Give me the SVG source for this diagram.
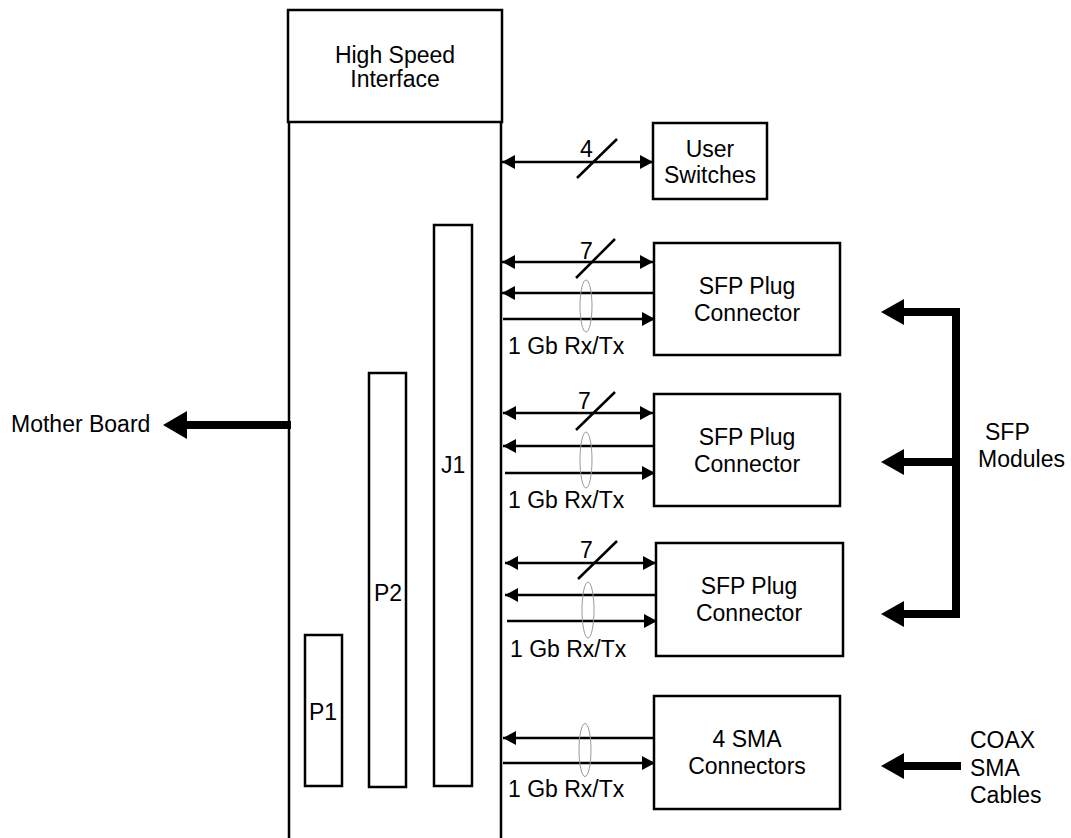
<svg xmlns="http://www.w3.org/2000/svg" width="1071" height="838" viewBox="0 0 1071 838">
<style>
.box{fill:#fff;stroke:#000;stroke-width:2.5}
.ln{stroke:#000;stroke-width:2.5;fill:none}
.th{stroke:#000;stroke-width:8;fill:none}
.el{fill:none;stroke:#999;stroke-width:1}
text{font-family:"Liberation Sans",Arial,sans-serif;font-size:23px;fill:#000}
.c{text-anchor:middle}
</style>
<defs>
<marker id="ah" viewBox="0 0 13 14" refX="13" refY="7" markerWidth="13" markerHeight="14" markerUnits="userSpaceOnUse" orient="auto-start-reverse">
<path d="M0,0 L13,7 L0,14 Z" fill="#000"/>
</marker>
</defs>
<rect width="1071" height="838" fill="#fff"/>
<g id="board">
<line class="ln" x1="289" y1="122" x2="289" y2="840"/>
<line class="ln" x1="501" y1="122" x2="501" y2="840"/>
</g>
<g id="hsi">
<rect class="box" x="288" y="10" width="214" height="112"/>
<text class="c" x="395" y="63">High Speed</text>
<text class="c" x="395" y="87">Interface</text>
</g>
<g id="j1">
<rect class="box" x="434" y="225" width="38" height="561"/>
<text x="441" y="473">J1</text>
</g>
<g id="p2">
<rect class="box" x="369" y="373" width="37" height="414"/>
<text x="374" y="601">P2</text>
</g>
<g id="p1">
<rect class="box" x="305" y="635" width="37" height="151"/>
<text x="309" y="720">P1</text>
</g>
<g id="userswitches">
<rect class="box" x="653" y="123" width="114" height="76"/>
<text class="c" x="710" y="157">User</text>
<text class="c" x="710" y="183">Switches</text>
</g>
<g id="sfp1">
<rect class="box" x="654" y="243" width="186" height="112"/>
<text class="c" x="747" y="294">SFP Plug</text>
<text class="c" x="747" y="321">Connector</text>
</g>
<g id="sfp2">
<rect class="box" x="654" y="394" width="186" height="112"/>
<text class="c" x="747" y="445">SFP Plug</text>
<text class="c" x="747" y="472">Connector</text>
</g>
<g id="sfp3">
<rect class="box" x="656" y="543" width="187" height="113"/>
<text class="c" x="749" y="594">SFP Plug</text>
<text class="c" x="749" y="621">Connector</text>
</g>
<g id="sma">
<rect class="box" x="654" y="696" width="186" height="113"/>
<text class="c" x="747" y="747">4 SMA</text>
<text class="c" x="747" y="774">Connectors</text>
</g>
<g id="labels">
<text x="11" y="432">Mother Board</text>
<text x="985" y="440">SFP</text>
<text x="978" y="467">Modules</text>
<text x="970" y="748">COAX</text>
<text x="970" y="776">SMA</text>
<text x="970" y="803">Cables</text>
</g>
<g id="connectors">
<line class="ln" x1="502" y1="162" x2="653" y2="162" marker-start="url(#ah)" marker-end="url(#ah)"/>
<line class="ln" stroke-width="1.2" x1="577" y1="178" x2="617" y2="139"/>
<text x="580" y="157">4</text>
<line class="ln" x1="502" y1="262" x2="653" y2="262" marker-start="url(#ah)" marker-end="url(#ah)"/>
<line class="ln" stroke-width="1.2" x1="576" y1="278" x2="615" y2="239"/>
<text x="580" y="259">7</text>
<line class="ln" x1="654" y1="293" x2="502" y2="293" marker-end="url(#ah)"/>
<line class="ln" x1="503" y1="319" x2="655" y2="319" marker-end="url(#ah)"/>
<ellipse class="el" cx="586" cy="306" rx="6" ry="26"/>
<text x="508" y="354">1 Gb Rx/Tx</text>
<line class="ln" x1="503" y1="413" x2="653" y2="413" marker-start="url(#ah)" marker-end="url(#ah)"/>
<line class="ln" stroke-width="1.2" x1="576" y1="430" x2="615" y2="392"/>
<text x="578" y="409">7</text>
<line class="ln" x1="654" y1="446" x2="503" y2="446" marker-end="url(#ah)"/>
<line class="ln" x1="505" y1="473" x2="655" y2="473" marker-end="url(#ah)"/>
<ellipse class="el" cx="586" cy="460" rx="6" ry="28"/>
<text x="508" y="508">1 Gb Rx/Tx</text>
<line class="ln" x1="505" y1="563" x2="656" y2="563" marker-start="url(#ah)" marker-end="url(#ah)"/>
<line class="ln" stroke-width="1.2" x1="578" y1="579" x2="617" y2="541"/>
<text x="580" y="558">7</text>
<line class="ln" x1="656" y1="595" x2="505" y2="595" marker-end="url(#ah)"/>
<line class="ln" x1="507" y1="621" x2="657" y2="621" marker-end="url(#ah)"/>
<ellipse class="el" cx="588" cy="610" rx="6" ry="28"/>
<text x="510" y="657">1 Gb Rx/Tx</text>
<line class="ln" x1="654" y1="738" x2="503" y2="738" marker-end="url(#ah)"/>
<line class="ln" x1="503" y1="763" x2="655" y2="763" marker-end="url(#ah)"/>
<ellipse class="el" cx="585" cy="750" rx="6" ry="26.5"/>
<text x="508" y="797">1 Gb Rx/Tx</text>
<line class="th" x1="291" y1="425" x2="186" y2="425"/>
<polygon points="163,425 187,411 187,439" fill="#000"/>
<path class="th" d="M903,312 H956 V614 H903 M956,462 H903"/>
<polygon points="881,312 904,299 904,325" fill="#000"/>
<polygon points="881,462 904,449 904,475" fill="#000"/>
<polygon points="881,614 904,601 904,627" fill="#000"/>
<line class="th" x1="961" y1="766" x2="903" y2="766"/>
<polygon points="881,766 904,753 904,779" fill="#000"/>
</g>
</svg>
